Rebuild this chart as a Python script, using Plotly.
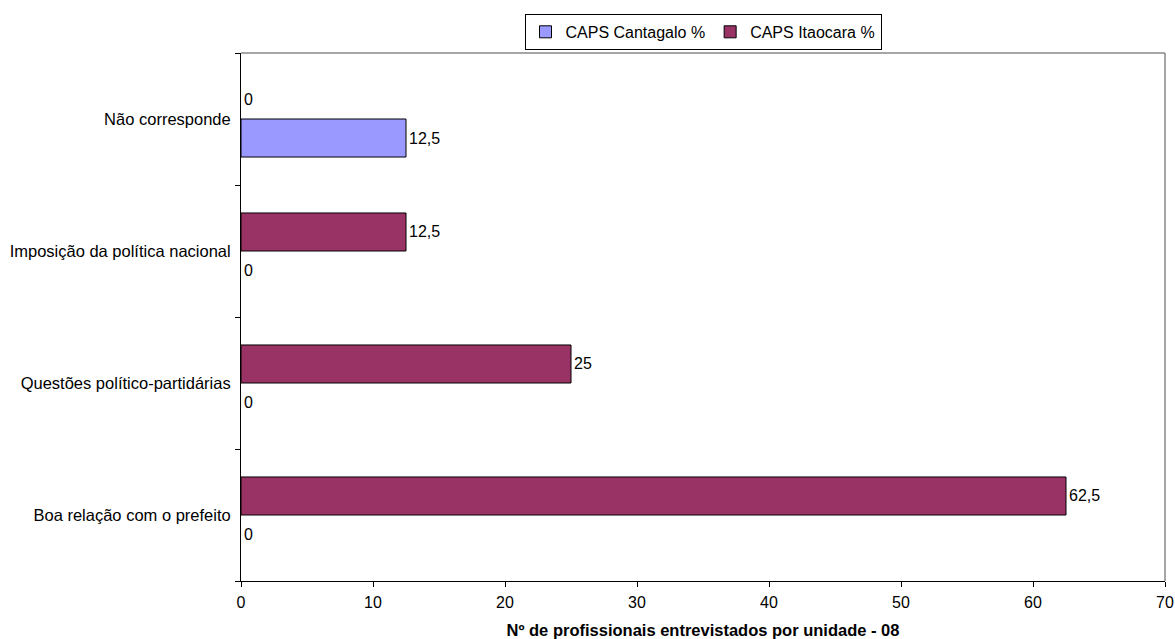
import plotly.graph_objects as go

# Response categories (bottom to top) and percentages per unit
categories = [
    "Boa relação com o prefeito",
    "Questões político-partidárias",
    "Imposição da política nacional",
    "Não corresponde",
]
cantagalo_pct = [0, 0, 0, 12.5]
itaocara_pct = [62.5, 25, 12.5, 0]
x_ticks = [0, 10, 20, 30, 40, 50, 60, 70]

FONT = "Arial, Liberation Sans, sans-serif"


def outline_widths(values):
    # empty bars get no outline so only their "0" label shows
    return [1 if v > 0 else 0 for v in values]


def nonzero_first(cats, values):
    # the legend swatch takes its outline from the first point,
    # so list a non-empty bar first (category order is fixed on the axis)
    pairs = sorted(zip(cats, values), key=lambda p: p[1] == 0)
    return [p[0] for p in pairs], [p[1] for p in pairs]


fig = go.Figure()
for name, values, color in [
    ("CAPS Cantagalo %", cantagalo_pct, "#9999FF"),
    ("CAPS Itaocara %", itaocara_pct, "#993366"),
]:
    ys, xs = nonzero_first(categories, values)
    fig.add_trace(go.Bar(
        name=name,
        y=ys, x=xs, orientation="h",
        marker=dict(color=color,
                    line=dict(color="#000000", width=outline_widths(xs))),
        texttemplate="%{x}", textposition="outside",
        textfont=dict(family=FONT, size=16, color="#000000"),
        cliponaxis=False,
    ))

fig.update_layout(
    width=1175, height=639,
    margin=dict(l=241, r=10, t=53, b=58, autoexpand=False),
    paper_bgcolor="white", plot_bgcolor="white",
    barmode="group", bargap=0.424, bargroupgap=0,
    separators=",.",
    font=dict(family=FONT, size=16, color="#000000"),
    showlegend=True,
    legend=dict(
        orientation="h", x=0.5, xanchor="center", y=1.074, yanchor="top",
        traceorder="normal", bordercolor="#000000", borderwidth=1,
        font=dict(family=FONT, size=16, color="#000000"),
        itemwidth=30, tracegroupgap=0,
    ),
    xaxis=dict(
        range=[0, 70], tickvals=x_ticks, ticktext=[str(v) for v in x_ticks],
        automargin=False,
        showgrid=False, zeroline=False,
        showline=True, linecolor="#000000", linewidth=1,
        ticks="outside", ticklen=5, tickcolor="#000000",
        ticklabelstandoff=2,
        tickfont=dict(family=FONT, size=16),
        title=dict(text="<b>Nº de profissionais entrevistados por unidade - 08</b>",
                   font=dict(family=FONT, size=16.5), standoff=16),
    ),
    yaxis=dict(
        type="category", categoryorder="array", categoryarray=categories,
        tickson="boundaries", automargin=False,
        showgrid=False, zeroline=False,
        showline=True, linecolor="#000000", linewidth=1,
        ticks="outside", ticklen=5, tickcolor="#000000",
        ticklabelstandoff=6,
        tickfont=dict(family=FONT, size=16.5),
    ),
    shapes=[
        dict(type="line", xref="paper", yref="paper", x0=0, x1=1, y0=1, y1=1,
             line=dict(color="#888888", width=1.5)),
        dict(type="line", xref="paper", yref="paper", x0=1, x1=1, y0=0, y1=1,
             line=dict(color="#888888", width=1.5)),
    ],
)

fig.write_html("out.html")
